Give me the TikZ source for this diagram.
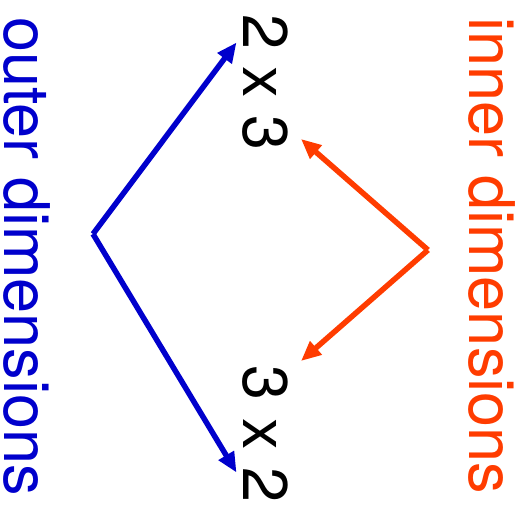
\documentclass[tikz,border=0pt]{standalone}
\usepackage{fontspec}
\setmainfont{TeX Gyre Heros}
\usepackage{tikz}
\usetikzlibrary{arrows.meta}
\definecolor{outerblue}{RGB}{0,0,204}
\definecolor{innerred}{RGB}{255,60,0}

\begin{document}
\begin{tikzpicture}[x=1pt, y=1pt,
    every node/.style={font=\fontsize{63}{63}\selectfont, inner sep=0pt, rotate=-90, anchor=base},
    dimarrow/.style={line width=5.5pt, -{Triangle[length=20pt,width=17pt]}}]
    \useasboundingbox (0,0) rectangle (525,506);
    % the two shapes, read top to bottom
    \node (first) at (243,423.5) {2 x 3};
    \node (second) at (243,72) {3 x 2};
    % labels on both sides
    \node[outerblue] (outer) at (4.5,249.5) {outer dimensions};
    \node[innerred] (inner) at (469,250) {inner dimensions};
    % corners and tips of the arrows
    \coordinate (outerfork) at (93,272);
    \coordinate (outertop) at (236.5,463.5);
    \coordinate (outerbottom) at (236.5,33.5);
    \coordinate (innerfork) at (428,256);
    \coordinate (innertop) at (301,367);
    \coordinate (innerbottom) at (301,145);
    \draw[dimarrow, outerblue] (outerfork) -- (outertop);
    \draw[dimarrow, outerblue] (outerfork) -- (outerbottom);
    \draw[dimarrow, innerred] (innerfork) -- (innertop);
    \draw[dimarrow, innerred] (innerfork) -- (innerbottom);
\end{tikzpicture}
\end{document}
